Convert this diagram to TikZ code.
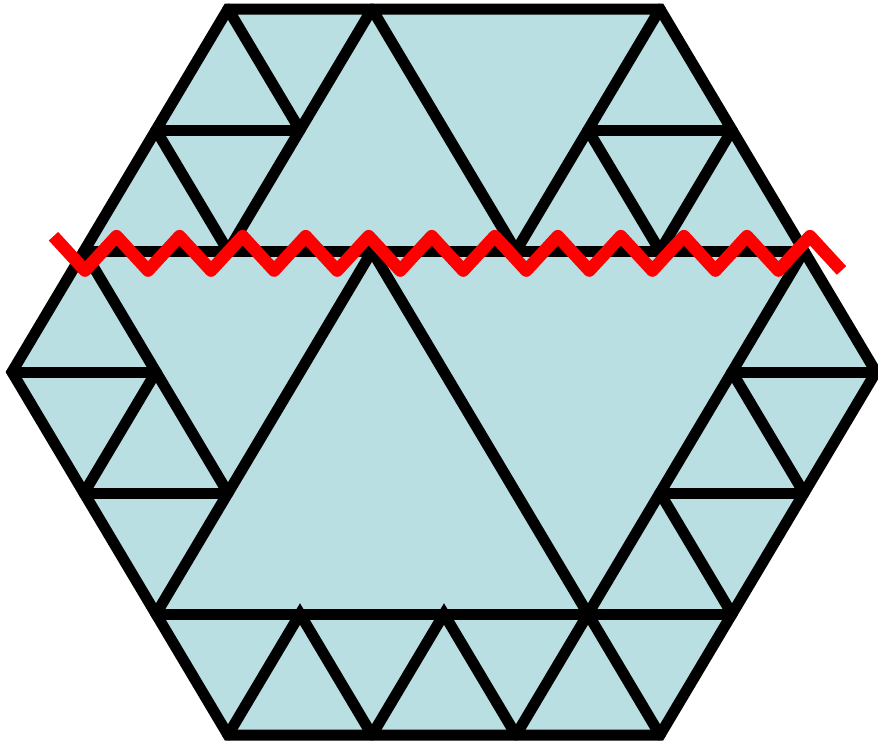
\documentclass[tikz,border=0pt]{standalone}
\usepackage{tikz}
\definecolor{TileBlue}{RGB}{186,223,227}
\definecolor{CutRed}{RGB}{255,0,0}

\begin{document}
\begin{tikzpicture}[
  x={(2.16cm,0)}, y={(0,-3.63cm)},
  hexa/.style={draw=black,line width=0.33cm,line join=miter},
  edge/.style={draw=black,line width=0.33cm,line cap=round},
  cut/.style={draw=CutRed,line width=0.38cm,line join=round},
]
\useasboundingbox (-0.1667,-0.0744) rectangle (12.028,6.0744);

% Hexagon
\coordinate (tl) at (3,0);
\coordinate (tr) at (9,0);
\coordinate (rr) at (12,3);
\coordinate (br) at (9,6);
\coordinate (bl) at (3,6);
\coordinate (ll) at (0,3);
\fill[TileBlue] (tl) -- (tr) -- (rr) -- (br) -- (bl) -- (ll) -- cycle;

% Horizontal lines
\draw[edge] (2,1) -- (4,1);
\draw[edge] (8,1) -- (10,1);
\draw[edge] (1,2) -- (11,2);
\draw[edge] (ll) -- (2,3);
\draw[edge] (10,3) -- (rr);
\draw[edge] (1,4) -- (3,4);
\draw[edge] (9,4) -- (11,4);
\draw[edge] (2,5) -- (10,5);

% Slanted lines, top
\draw[edge] (tl) -- (4,1);
\draw[edge] (5,0) -- (3,2);
\draw[edge] (2,1) -- (3,2);
\draw[edge] (5,0) -- (7,2);
\draw[edge] (tr) -- (7,2);
\draw[edge] (8,1) -- (9,2);
\draw[edge] (10,1) -- (9,2);

% Slanted lines, middle
\draw[edge] (1,2) -- (3,4);
\draw[edge] (2,3) -- (1,4);
\draw[edge] (5,2) -- (2,5);
\draw[edge] (5,2) -- (8,5);
\draw[edge] (11,2) -- (8,5);
\draw[edge] (10,3) -- (11,4);
\draw[edge] (9,4) -- (10,5);

% Slanted lines, bottom row
\foreach \k in {4,6,8}
  \draw[edge] (\k-1,6) -- (\k,5) -- (\k+1,6);

\draw[hexa] (tl) -- (tr) -- (rr) -- (br) -- (bl) -- (ll) -- cycle;

% Zigzag cut
\coordinate (zstart) at (0.576,1.878);
\draw[cut] (zstart)
  \foreach \i in {1,...,12} { -- ++(0.4378,0.283) -- ++(0.4378,-0.283) }
  -- ++(0.4378,0.283);

\end{tikzpicture}
\end{document}
